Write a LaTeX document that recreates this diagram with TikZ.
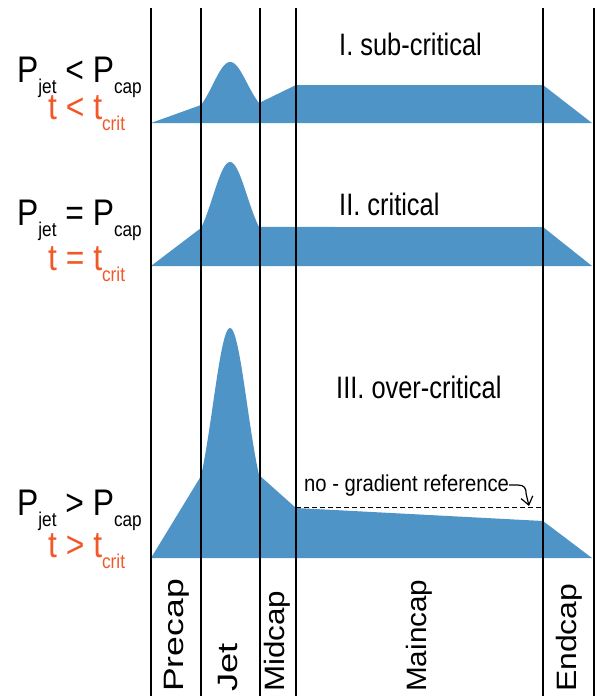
\documentclass[tikz,border=0pt]{standalone}
\usepackage{fontspec}
\setmainfont{Liberation Sans}
\newfontfamily\narrowsans{Liberation Sans}[FakeStretch=0.82]
\newfontfamily\labelsans{Liberation Sans}[FakeStretch=0.86]
\newfontfamily\notesans{Liberation Sans}[FakeStretch=0.88]
\usetikzlibrary{arrows.meta}
\definecolor{capblue}{RGB}{79,148,199}
\definecolor{critred}{RGB}{240,88,40}
\newcommand\lowtext[1]{\raisebox{-11pt}{\fontsize{20}{20}\selectfont #1}}
\begin{document}
\begin{tikzpicture}[x=1pt,y=-1pt,line join=round,
	declare function={bump(\t,\l,\r,\h)=\l+(\r-\l)*(\t-201)/58-\h*(exp(-(\t-230)*(\t-230)/578)-0.2334)/0.7666;},
	sep/.style={line width=2pt},
	lbl/.style={font=\labelsans\fontsize{37}{37}\selectfont,inner sep=0pt,anchor=base west},
	ttl/.style={font=\narrowsans\fontsize{31}{31}\selectfont,inner sep=0pt,anchor=base west},
	refnote/.style={font=\notesans\fontsize{23}{23}\selectfont,inner sep=0pt,anchor=base west},
	seg/.style={font=\fontsize{28}{28}\selectfont,inner sep=0pt,anchor=base west,rotate=90},
	noref/.style={dash pattern=on 5pt off 3pt,line width=1.2pt},
	refarrow/.style={line width=1.2pt,-{Straight Barb[length=8pt,width=12pt]}}]
	\useasboundingbox (0,0) rectangle (595,696);
	\fill[capblue] (151,123) -- (201,105) -- plot[domain=201:259,samples=41] (\x,{bump(\x,105,103,42)}) -- (296,85) -- (543,85) -- (592,123) -- cycle;
	\fill[capblue] (151,266) -- (201,228) -- plot[domain=201:259,samples=41] (\x,{bump(\x,228,227,65.5)}) -- (543,227) -- (592,266) -- cycle;
	\fill[capblue] (151,558) -- (201,476) -- plot[domain=201:259,samples=41] (\x,{bump(\x,476,475,147.5)}) -- (296,508) -- (543,521) -- (592,558) -- cycle;
	\foreach \xl in {151,201,259.5,296,543,593.5}
	\draw[sep] (\xl,8) -- (\xl,696);
	\node[lbl] (condI) at (17,82) {P\lowtext{jet} < P\lowtext{cap}};
	\node[lbl,text=critred] (timeI) at (48,119) {t < t\lowtext{crit}};
	\node[lbl] (condII) at (17,225) {P\lowtext{jet} = P\lowtext{cap}};
	\node[lbl,text=critred] (timeII) at (48,270) {t = t\lowtext{crit}};
	\node[lbl] (condIII) at (17,515) {P\lowtext{jet} > P\lowtext{cap}};
	\node[lbl,text=critred] (timeIII) at (48,557) {t > t\lowtext{crit}};
	\node[ttl] (regI) at (339,55) {I. sub-critical};
	\node[ttl] (regII) at (339,215) {II. critical};
	\node[ttl] (regIII) at (336,398) {III. over-critical};
	\draw[noref] (296,507.5) -- (541,507.5);
	\node[refnote] (ref) at (304,491) {no - gradient reference};
	\coordinate (tip) at (529,506);
	\draw[refarrow] (ref.east) -- ++(9,0) .. controls +(6,0) and +(0,-6) .. ++(8,9) -- (tip);
	\foreach \name/\xpos/\sx in {Precap/183/1.27,Jet/237/1.3,Midcap/284/1.12,Maincap/426/1.06,Endcap/576/1.14}
	\node[seg] (\name) at (\xpos,692) {\scalebox{\sx}[1]{\name}};
\end{tikzpicture}
\end{document}
